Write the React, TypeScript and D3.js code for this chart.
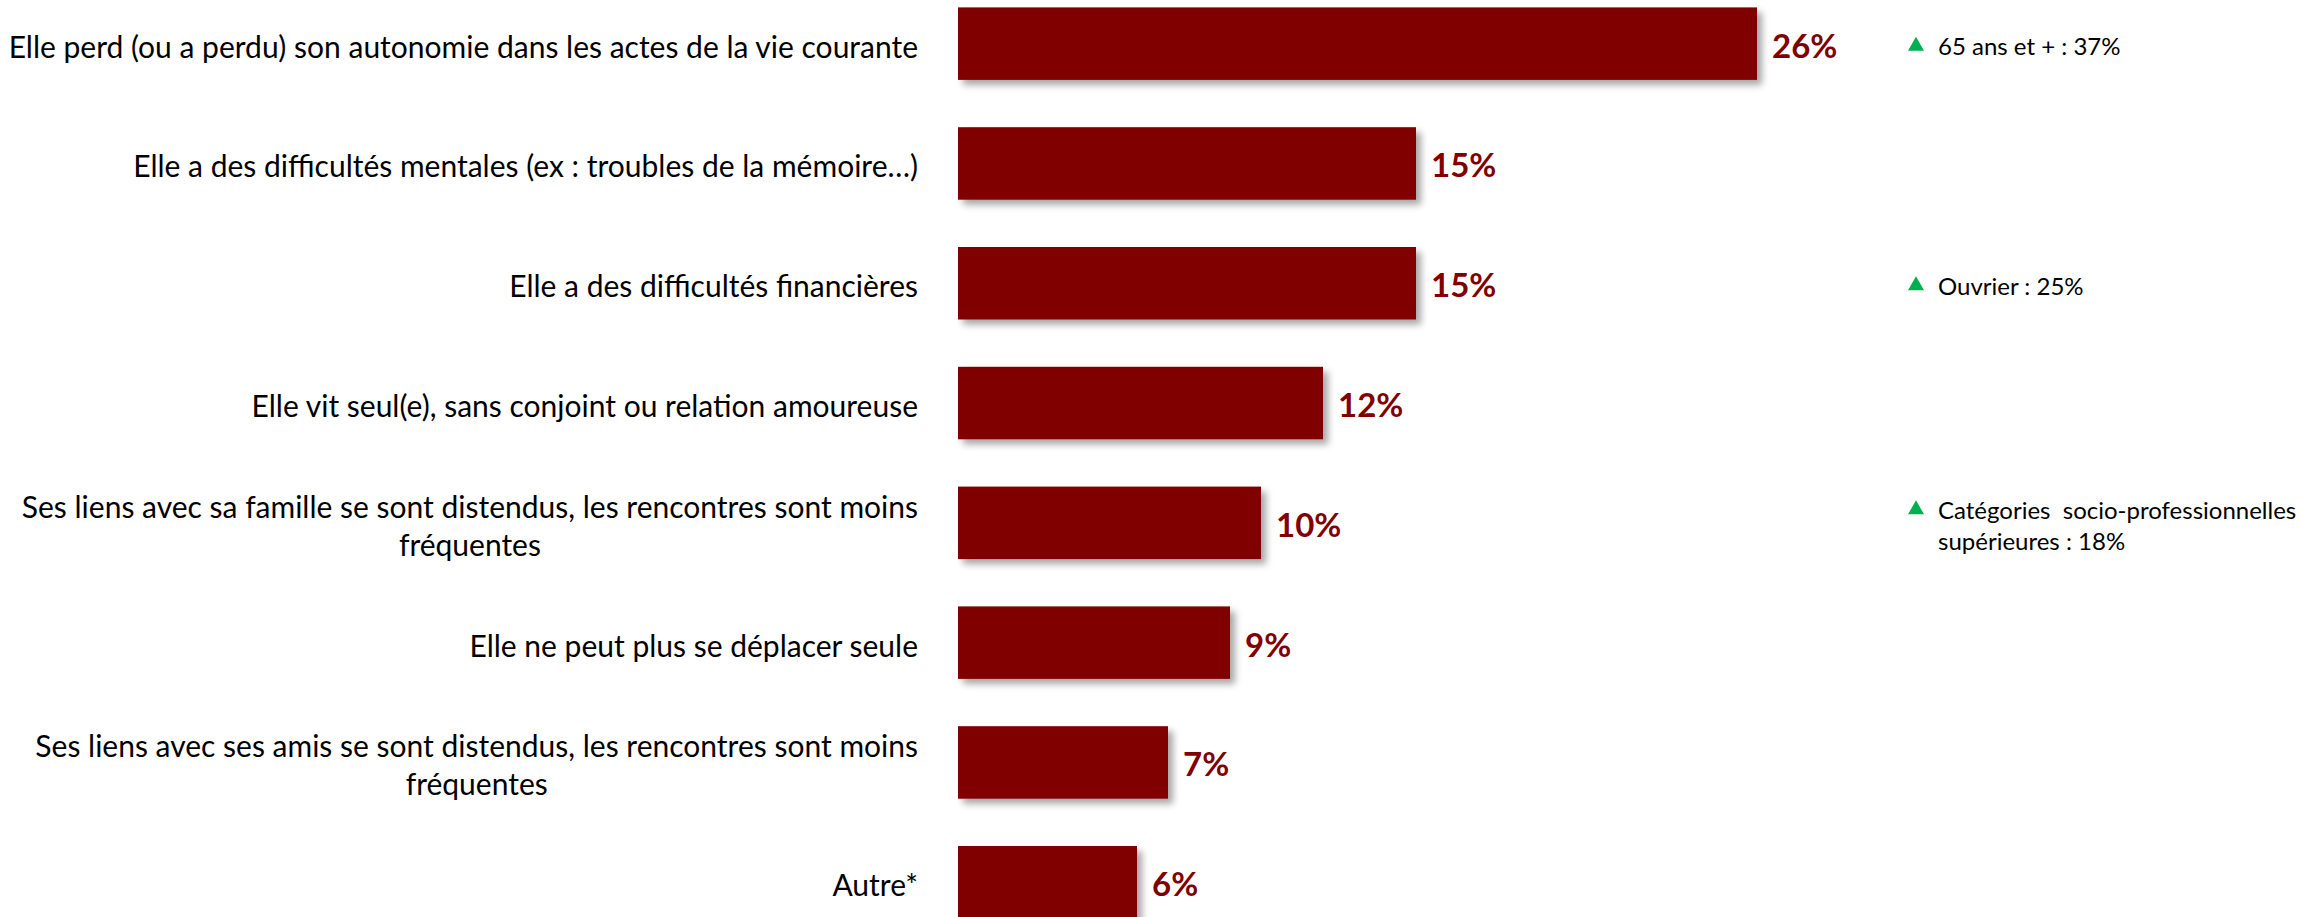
import React, { useEffect, useRef } from "react";
import * as d3 from "d3";

const categories: string[][] = [
  ["Elle perd (ou a perdu) son autonomie dans les actes de la vie courante"],
  ["Elle a des difficultés mentales (ex : troubles de la mémoire…)"],
  ["Elle a des difficultés financières"],
  ["Elle vit seul(e), sans conjoint ou relation amoureuse"],
  ["Ses liens avec sa famille se sont distendus, les rencontres sont moins", "fréquentes"],
  ["Elle ne peut plus se déplacer seule"],
  ["Ses liens avec ses amis se sont distendus, les rencontres sont moins", "fréquentes"],
  ["Autre*"],
];
const values: number[] = [26, 15, 15, 12, 10, 9, 7, 6];
const valueLabels: string[] = ["26%", "15%", "15%", "12%", "10%", "9%", "7%", "6%"];
const noteRows: number[] = [0, 2, 4];
const noteTexts: string[][] = [
  ["65 ans et + : 37%"],
  ["Ouvrier : 25%"],
  ["Catégories  socio-professionnelles", "supérieures : 18%"],
];

const W = 2321;
const H = 917;
const FONT = "Lato, 'Open Sans', sans-serif";
const BAR = "#800000";

export default function App() {
  const ref = useRef<SVGSVGElement | null>(null);
  useEffect(() => {
    const svg = d3.select(ref.current);
    svg.selectAll("*").remove();
    const defs = svg.append("defs");
    const f = defs.append("filter").attr("id", "shadow").attr("x", "-5%").attr("y", "-20%").attr("width", "115%").attr("height", "150%");
    f.append("feDropShadow").attr("dx", 5).attr("dy", 5).attr("stdDeviation", 3.5).attr("flood-color", "#000").attr("flood-opacity", 0.35);

    const x = d3.scaleLinear().domain([0, 26]).range([951, 1757]);
    const barStart = 958;
    const bw = 72.5;
    const step = 119.8;
    const cy = (i: number) => 7.4 + bw / 2 + i * step;

    const g = svg.append("g");
    g.selectAll("rect.bar").data(values).join("rect")
      .attr("class", "bar")
      .attr("x", barStart)
      .attr("y", (_, i) => cy(i) - bw / 2)
      .attr("width", (d) => x(d) - barStart)
      .attr("height", bw)
      .attr("fill", BAR)
      .attr("filter", "url(#shadow)");

    g.selectAll("text.val").data(valueLabels).join("text")
      .attr("class", "val")
      .attr("x", (_, i) => x(values[i]) + 15)
      .attr("y", (_, i) => cy(i) + 1)
      .attr("dominant-baseline", "central")
      .attr("font-family", FONT)
      .attr("font-weight", 700)
      .attr("font-size", 33)
      .attr("fill", BAR)
      .text((d) => d);

    const labelRight = 918;
    const lineH = 38;
    const LFS = 30;
    categories.forEach((lines, i) => {
      const n = lines.length;
      const y0 = cy(i) + 2 - ((n - 1) * lineH) / 2;
      const first = g.append("text")
        .attr("x", labelRight)
        .attr("y", y0)
        .attr("text-anchor", "end")
        .attr("dominant-baseline", "central")
        .attr("font-family", FONT)
        .attr("font-size", LFS)
        .attr("fill", "#000")
        .text(lines[0]);
      if (n > 1) {
        const w = (first.node() as SVGTextElement).getComputedTextLength();
        const center = labelRight - w / 2;
        for (let k = 1; k < n; k++) {
          g.append("text")
            .attr("x", center)
            .attr("y", y0 + k * lineH)
            .attr("text-anchor", "middle")
            .attr("dominant-baseline", "central")
            .attr("font-family", FONT)
            .attr("font-size", LFS)
            .attr("fill", "#000")
            .text(lines[k]);
        }
      }
    });

    const triX = 1916;
    const textX = 1938;
    const noteLineH = 31;
    noteRows.forEach((row, j) => {
      const lines = noteTexts[j];
      const y0 = cy(row) + 2 - ((lines.length - 1) * noteLineH) / 2;
      g.append("path")
        .attr("d", `M${triX - 8},${y0 + 5} L${triX + 8},${y0 + 5} L${triX},${y0 - 9} Z`)
        .attr("fill", "#00B050");
      lines.forEach((t, k) => {
        g.append("text")
          .attr("x", textX)
          .attr("y", y0 + k * noteLineH)
          .attr("dominant-baseline", "central")
          .attr("font-family", FONT)
          .attr("font-size", 24)
          .attr("fill", "#000")
          .style("white-space", "pre")
          .text(t);
      });
    });
  }, []);

  return (
    <svg
      ref={ref}
      width={W}
      height={H}
      style={{ position: "absolute", left: 0, top: 0, background: "#fff" }}
    />
  );
}
